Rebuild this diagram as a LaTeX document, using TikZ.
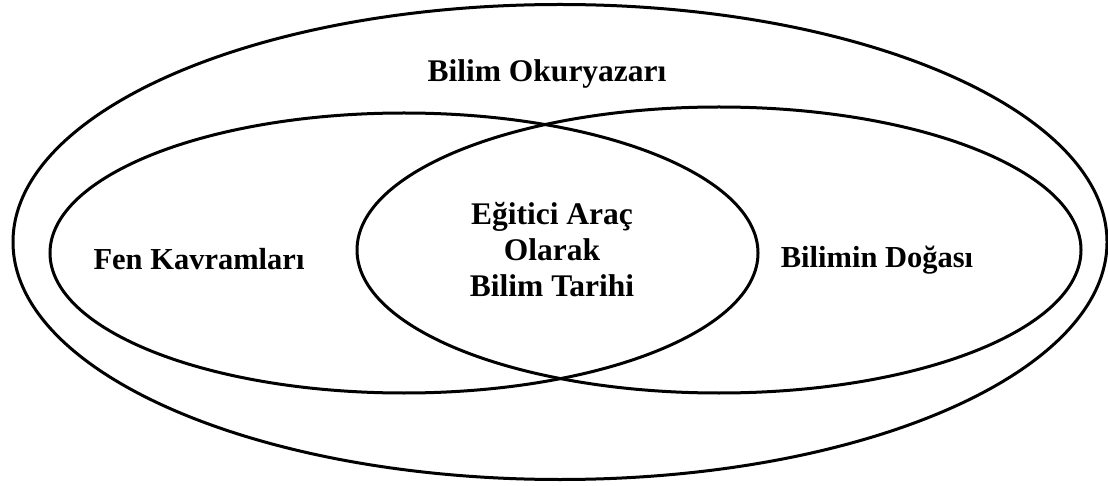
\documentclass[tikz,border=0pt]{standalone}
\usepackage{fontspec}
\setmainfont{Liberation Serif}
\begin{document}
\begin{tikzpicture}[x=1pt,y=-1pt,
  ring/.style={draw=black,line width=3pt},
  lbl/.style={inner sep=0pt,anchor=base,font=\fontsize{31.5}{36}\selectfont\bfseries},
  sidelbl/.style={lbl,font=\fontsize{30.5}{36}\selectfont\bfseries}]
\useasboundingbox (0,0) rectangle (1108,486);
\draw[ring] (560,242) ellipse [x radius=547pt, y radius=237.5pt];
\draw[ring] (404,253) ellipse [x radius=354pt, y radius=140pt];
\draw[ring] (719,250) ellipse [x radius=362pt, y radius=143pt];
\node[lbl] (okur) at (547,82) {Bilim Okuryazarı};
\node[sidelbl] (fen) at (199,270) {Fen Kavramları};
\node[sidelbl] (doga) at (877,268) {Bilimin Doğası};
\node[lbl] (e1) at (552,225) {Eğitici Araç};
\node[lbl] (e2) at (552,261) {Olarak};
\node[lbl] (e3) at (552,297) {Bilim Tarihi};
\end{tikzpicture}
\end{document}
